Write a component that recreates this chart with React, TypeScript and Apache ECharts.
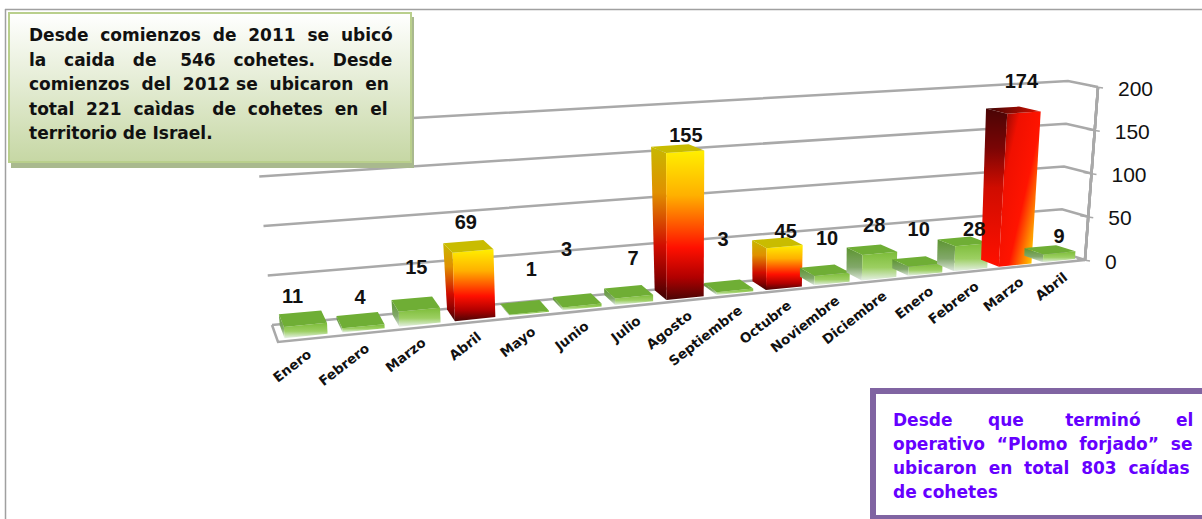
import React, { useEffect, useRef } from "react";
import * as echarts from "echarts";

const months = ["Enero","Febrero","Marzo","Abril","Mayo","Junio","Julio","Agosto","Septiembre","Octubre","Noviembre","Diciembre","Enero","Febrero","Marzo","Abril"];
const rockets = [11,4,15,69,1,3,7,155,3,45,10,28,10,28,174,9];
const yTicks = [0,50,100,150,200];
const labelDx = [-8,2,3,0,9,-8,7,11,-3,11,5,5,4,14,11,12];
const labelDy = [-22,-23,-36,-24,-38,-51,-33,-13,-46,-11,-32,-24,-32,-12,-29,-13];
const greenLines = ["Desde comienzos de 2011 se ubicó","la caida de 546 cohetes. Desde","comienzos del 2012 se ubicaron en","total 221 caìdas de cohetes en el"];
const greenLast = "territorio de Israel.";
const purpleLines = ["Desde que terminó el","operativo “Plomo forjado” se","ubicaron en total 803 caídas"];
const purpleLast = "de cohetes";

type P = [number, number];
const BL: P = [272,325], BR: P = [1060,252], TL: P = [255,127], TR: P = [1068,81];
const FL: P = [278,342], FR: P = [1085,260], FTL: P = [267,135], FTR: P = [1098,87];
const lerp = (a: P, b: P, t: number): P => [a[0]+(b[0]-a[0])*t, a[1]+(b[1]-a[1])*t];
const warp = (t: number) => { const r = 1.17; return t*r/(1+(r-1)*t); };
function project(u: number, v: number, w: number): P {
  const s = warp(u);
  const front = lerp(lerp(FL,FR,s), lerp(FTL,FTR,s), v);
  const back = lerp(lerp(BL,BR,s), lerp(TL,TR,s), v);
  return lerp(front, back, w);
}

const FONT = "'DejaVu Sans'";
const BOX_SIZE = 17;
function justify(line: string, size: number, width: number) {
  const c = document.createElement("canvas").getContext("2d")!;
  c.font = `bold ${size}px ${FONT}`;
  const words = line.split(" ");
  const gaps = words.length-1;
  const extra = Math.max(0, Math.round((width - c.measureText(line).width)/c.measureText(" ").width));
  let out = words[0], used = 0;
  for (let i=1;i<=gaps;i++) {
    const target = Math.round(extra*i/gaps);
    out += " ".repeat(1+target-used) + words[i];
    used = target;
  }
  return out;
}

const GRID = { left: 100, top: 100, width: 800, height: 200 };
const unit = (api: any, params: any, cat: number, val: number, offset = 0) => {
  const cs = params.coordSys;
  const p = api.coord([cat, val]);
  return { u: (p[0]+offset-cs.x)/cs.width, v: (cs.y+cs.height-p[1])/cs.height };
};

const hotFront = () => new echarts.graphic.LinearGradient(0,0,0,1,[
  {offset:0,color:"#ffef00"},{offset:0.3,color:"#ffb000"},{offset:0.65,color:"#ff1000"},{offset:0.85,color:"#b00000"},{offset:1,color:"#4a0505"}]);
const hotSide = () => new echarts.graphic.LinearGradient(0,0,0,1,[
  {offset:0,color:"#c8b800"},{offset:0.3,color:"#e09000"},{offset:0.65,color:"#d00c00"},{offset:0.85,color:"#8a0000"},{offset:1,color:"#3a0404"}]);
const hugeFront = () => new echarts.graphic.LinearGradient(0,0,1,0.85,[
  {offset:0,color:"#6a0505"},{offset:0.3,color:"#f01000"},{offset:0.62,color:"#ff1400"},{offset:0.82,color:"#ff8800"},{offset:1,color:"#ffee00"}]);
const hugeSide = () => new echarts.graphic.LinearGradient(0,0,0,1,[
  {offset:0,color:"#4a0505"},{offset:0.25,color:"#7a0505"},{offset:0.5,color:"#d00c00"},{offset:1,color:"#ff1000"}]);
const hugeTop = () => new echarts.graphic.LinearGradient(0,0,1,0,[
  {offset:0,color:"#3a0505"},{offset:1,color:"#d81000"}]);
const greenFront = () => new echarts.graphic.LinearGradient(0,0,0,1,[
  {offset:0,color:"#7cbc38"},{offset:0.55,color:"#9ccf62"},{offset:1,color:"#e6f0e6"}]);
const greenSide = () => new echarts.graphic.LinearGradient(0,0,0,1,[
  {offset:0,color:"#5c9430"},{offset:0.6,color:"#82a86a"},{offset:1,color:"#dfe8df"}]);

function renderBar(params: any, api: any) {
  const i = api.value(0), val = api.value(1);
  const half = api.size([1,0])[0]*0.37;
  const a = unit(api, params, i, val, -half), b = unit(api, params, i, val, half);
  const f0 = 0.18, f1 = 0.95;
  const vTop = a.v;
  const fbl = project(a.u,0,f0), fbr = project(b.u,0,f0), ftl = project(a.u,vTop,f0), ftr = project(b.u,vTop,f0);
  const bbl = project(a.u,0,f1), btl = project(a.u,vTop,f1), btr = project(b.u,vTop,f1);
  const huge = val >= 170, hot = val >= 40;
  const top = huge ? hugeTop() : hot ? "#c9bc00" : "#6fae35";
  const children: any[] = [
    { type:"polygon", shape:{points:[bbl,btl,ftl,fbl]}, style:{fill: huge?hugeSide():hot?hotSide():greenSide()} },
    { type:"polygon", shape:{points:[fbl,ftl,ftr,fbr]}, style:{fill: huge?hugeFront():hot?hotFront():greenFront()} },
    { type:"polygon", shape:{points:[btl,btr,ftr,ftl]}, style:{fill: top} },
  ];
  return { type:"group", children };
}

function renderValueLabel(params: any, api: any) {
  const i = api.value(0), val = api.value(1);
  const half = api.size([1,0])[0]*0.4;
  const c = unit(api, params, i, val);
  const t = project(c.u, c.v, 0.6);
  return { type:"text", x: t[0]-half*0.1+labelDx[i], y: t[1]+labelDy[i],
    style:{ text:String(val), fill:"#111", fontFamily:"'Liberation Sans'", fontWeight:"bold", fontSize:20, align:"center", verticalAlign:"middle" } };
}

function renderMonth(params: any, api: any) {
  const i = api.value(0);
  const c = unit(api, params, i, 0);
  const p = project(c.u, 0, 0);
  return { type:"text", x:p[0]+2, y:p[1]+13, rotation:38*Math.PI/180,
    style:{ text:months[i], x:0, y:0, fill:"#111", fontFamily:FONT, fontWeight:"bold", fontSize:13.5, align:"right", verticalAlign:"middle" } };
}

const LINE = { stroke:"#a9a9a9", lineWidth:2.5 };
function renderGrid(params: any, api: any) {
  const c = unit(api, params, 0, api.value(1));
  const v = c.v;
  const a = project(0,v,1), b = project(1,v,1), d = project(1,v,0);
  const children: any[] = [
    { type:"polyline", shape:{points:[a,b,d]}, style:{...LINE, fill:"none"} },
  ];
  if (v === 0) {
    const fl = project(0,0,0);
    children.push({ type:"polyline", shape:{points:[a,fl,d]}, style:{...LINE, fill:"none"} });
  }
  return { type:"group", children };
}
function renderEdge(params: any, api: any) {
  const c = unit(api, params, 0, api.value(1));
  const p = project(1,c.v,0);
  const q = project(1,0,0), r = project(1,1,0);
  return { type:"group", children:[
    { type:"line", shape:{x1:q[0],y1:q[1],x2:r[0],y2:r[1]}, style:LINE },
    { type:"line", shape:{x1:p[0]-8,y1:p[1]-1,x2:p[0]+5,y2:p[1]+1}, style:{...LINE, lineWidth:1.5} },
    { type:"text", x:p[0]+20, y:p[1]+1, style:{ text:String(api.value(1)), fill:"#111", fontFamily:"'Liberation Sans'", fontSize:21, align:"left", verticalAlign:"middle" } },
  ]};
}

export default function App() {
  const ref = useRef<HTMLDivElement>(null);
  useEffect(() => {
    document.body.style.margin = "0";
    const chart = echarts.init(ref.current!, undefined, { renderer: "svg" });
    const monthData = months.map((_, i) => [i, rockets[i]]);
    const tickData = yTicks.map(t => [0, t]);
    const text = (x: number, y: number, s: string, fill: string) => ({
      type:"text", x, y, z:102, style:{ text:s, x:0, y:0, fill, fontFamily:FONT, fontWeight:"bold", fontSize:BOX_SIZE, align:"left", verticalAlign:"middle" } });
    const graphics: any[] = [
      { type:"line", z:1, shape:{x1:5,y1:9.5,x2:1202,y2:9.5}, style:{stroke:"#a0a0a0",lineWidth:1.5} },
      { type:"line", z:1, shape:{x1:5.5,y1:9,x2:5.5,y2:519}, style:{stroke:"#a0a0a0",lineWidth:1.5} },
      { type:"rect", z:100, shape:{x:11,y:17,width:403,height:151}, style:{fill:"#a9b98e"} },
      { type:"rect", z:101, shape:{x:9,y:13,width:402,height:149},
        style:{ stroke:"#b9cf8c", lineWidth:2, fill:new echarts.graphic.LinearGradient(0,0,0,1,[{offset:0,color:"#ffffff"},{offset:1,color:"#c6d7a4"}]) } },
      { type:"rect", z:100, shape:{x:873,y:391,width:340,height:127}, style:{stroke:"#8064a2",lineWidth:6,fill:"#fff"} },
      ...greenLines.map((l,i)=>text(29,35+i*24.5,justify(l,BOX_SIZE,361),"#111")),
      text(29,133,greenLast,"#111"),
      ...purpleLines.map((l,i)=>text(893,420+i*24,justify(l,BOX_SIZE,299),"#6600ff")),
      text(893,492,purpleLast,"#6600ff"),
    ];
    chart.setOption({
      animation:false,
      backgroundColor:"#fff",
      grid:GRID,
      xAxis:{ type:"category", data:months.map((_,i)=>String(i)), show:false },
      yAxis:{ type:"value", min:0, max:200, interval:50, show:false },
      graphic:graphics,
      series:[
        { type:"custom", coordinateSystem:"cartesian2d", clip:false, silent:true, z:2, data:tickData, renderItem:renderGrid },
        { type:"custom", coordinateSystem:"cartesian2d", clip:false, silent:true, z:2, data:tickData, renderItem:renderEdge },
        { type:"custom", coordinateSystem:"cartesian2d", clip:false, silent:true, z:3, data:monthData, renderItem:renderBar },
        { type:"custom", coordinateSystem:"cartesian2d", clip:false, silent:true, z:4, data:monthData, renderItem:renderMonth },
        { type:"custom", coordinateSystem:"cartesian2d", clip:false, silent:true, z:5, data:monthData, renderItem:renderValueLabel },
      ],
    });
    return () => chart.dispose();
  }, []);
  return <div ref={ref} style={{ position:"absolute", left:0, top:0, width:1202, height:519, overflow:"hidden" }} />;
}
